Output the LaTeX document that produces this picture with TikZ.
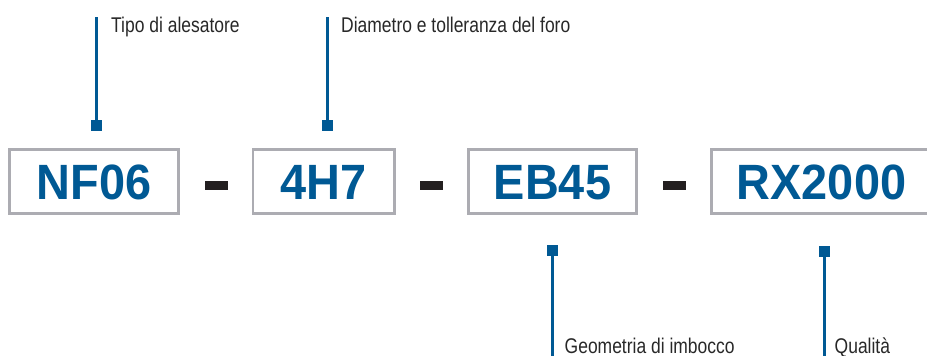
\documentclass[tikz,border=0pt]{standalone}
\usepackage{fontspec}
\setmainfont{Liberation Sans}
\newfontfamily\narrowfont[FakeStretch=0.82]{Liberation Sans}
\newfontfamily\codefont[FakeStretch=0.945]{Liberation Sans Bold}
\definecolor{codeblue}{RGB}{0,89,148}
\definecolor{boxgray}{RGB}{172,172,178}
\definecolor{dashblack}{RGB}{35,31,32}
\definecolor{labelgray}{RGB}{40,40,40}
\tikzset{
  codebox/.style={draw=boxgray, line width=2.7pt, inner sep=0pt,
    minimum height=64pt, text height=35.5pt, text depth=0pt,
    text=codeblue, font=\codefont\fontsize{49.6}{50}\selectfont},
  sepdash/.style={fill=dashblack, inner sep=0pt, minimum width=23pt, minimum height=9pt},
  marker/.style={fill=codeblue, inner sep=0pt, minimum size=10.6pt},
  leader/.style={draw=codeblue, line width=2.4pt},
  lbl/.style={text=labelgray, inner sep=0pt, font=\narrowfont\fontsize{21.3}{24}\selectfont}
}
\begin{document}
\begin{tikzpicture}[x=1pt,y=-1pt]
\useasboundingbox (0,0) rectangle (927,356);
% code boxes
\node[codebox, minimum width=169.3pt] (b1) at (94,181.75) {NF06};
\node[codebox, minimum width=141.3pt] (b2) at (323.7,181.75) {4H7};
\node[codebox, minimum width=168.3pt] (b3) at (552.5,181.75) {EB45};
\node[codebox, minimum width=220.3pt] (b4) at (821.5,181.75) {RX2000};
% separators
\node[sepdash] (d1) at (216.5,185.5) {};
\node[sepdash] (d2) at (431.3,185.5) {};
\node[sepdash] (d3) at (674.5,185.5) {};
% markers
\node[marker] (m1) at (96.6,125.4) {};
\node[marker] (m2) at (327.3,125.4) {};
\node[marker] (m3) at (552.5,250.5) {};
\node[marker] (m4) at (824.5,251.3) {};
% labels
\node[lbl, anchor=base west] (l1) at (111,32.3) {Tipo di alesatore};
\node[lbl, anchor=base west] (l2) at (341,32.3) {Diametro e tolleranza del foro};
\node[lbl, anchor=base west] (l3) at (564.5,353) {Geometria di imbocco};
\node[lbl, anchor=base west] (l4) at (834.5,353) {Qualità};
% leader end points
\coordinate (e1) at (96.6,17);
\coordinate (e2) at (327.3,17);
\coordinate (e3) at (552.5,358);
\coordinate (e4) at (824.5,358);
\draw[leader] (m1.north) -- (e1);
\draw[leader] (m2.north) -- (e2);
\draw[leader] (m3.south) -- (e3);
\draw[leader] (m4.south) -- (e4);
\end{tikzpicture}
\end{document}
